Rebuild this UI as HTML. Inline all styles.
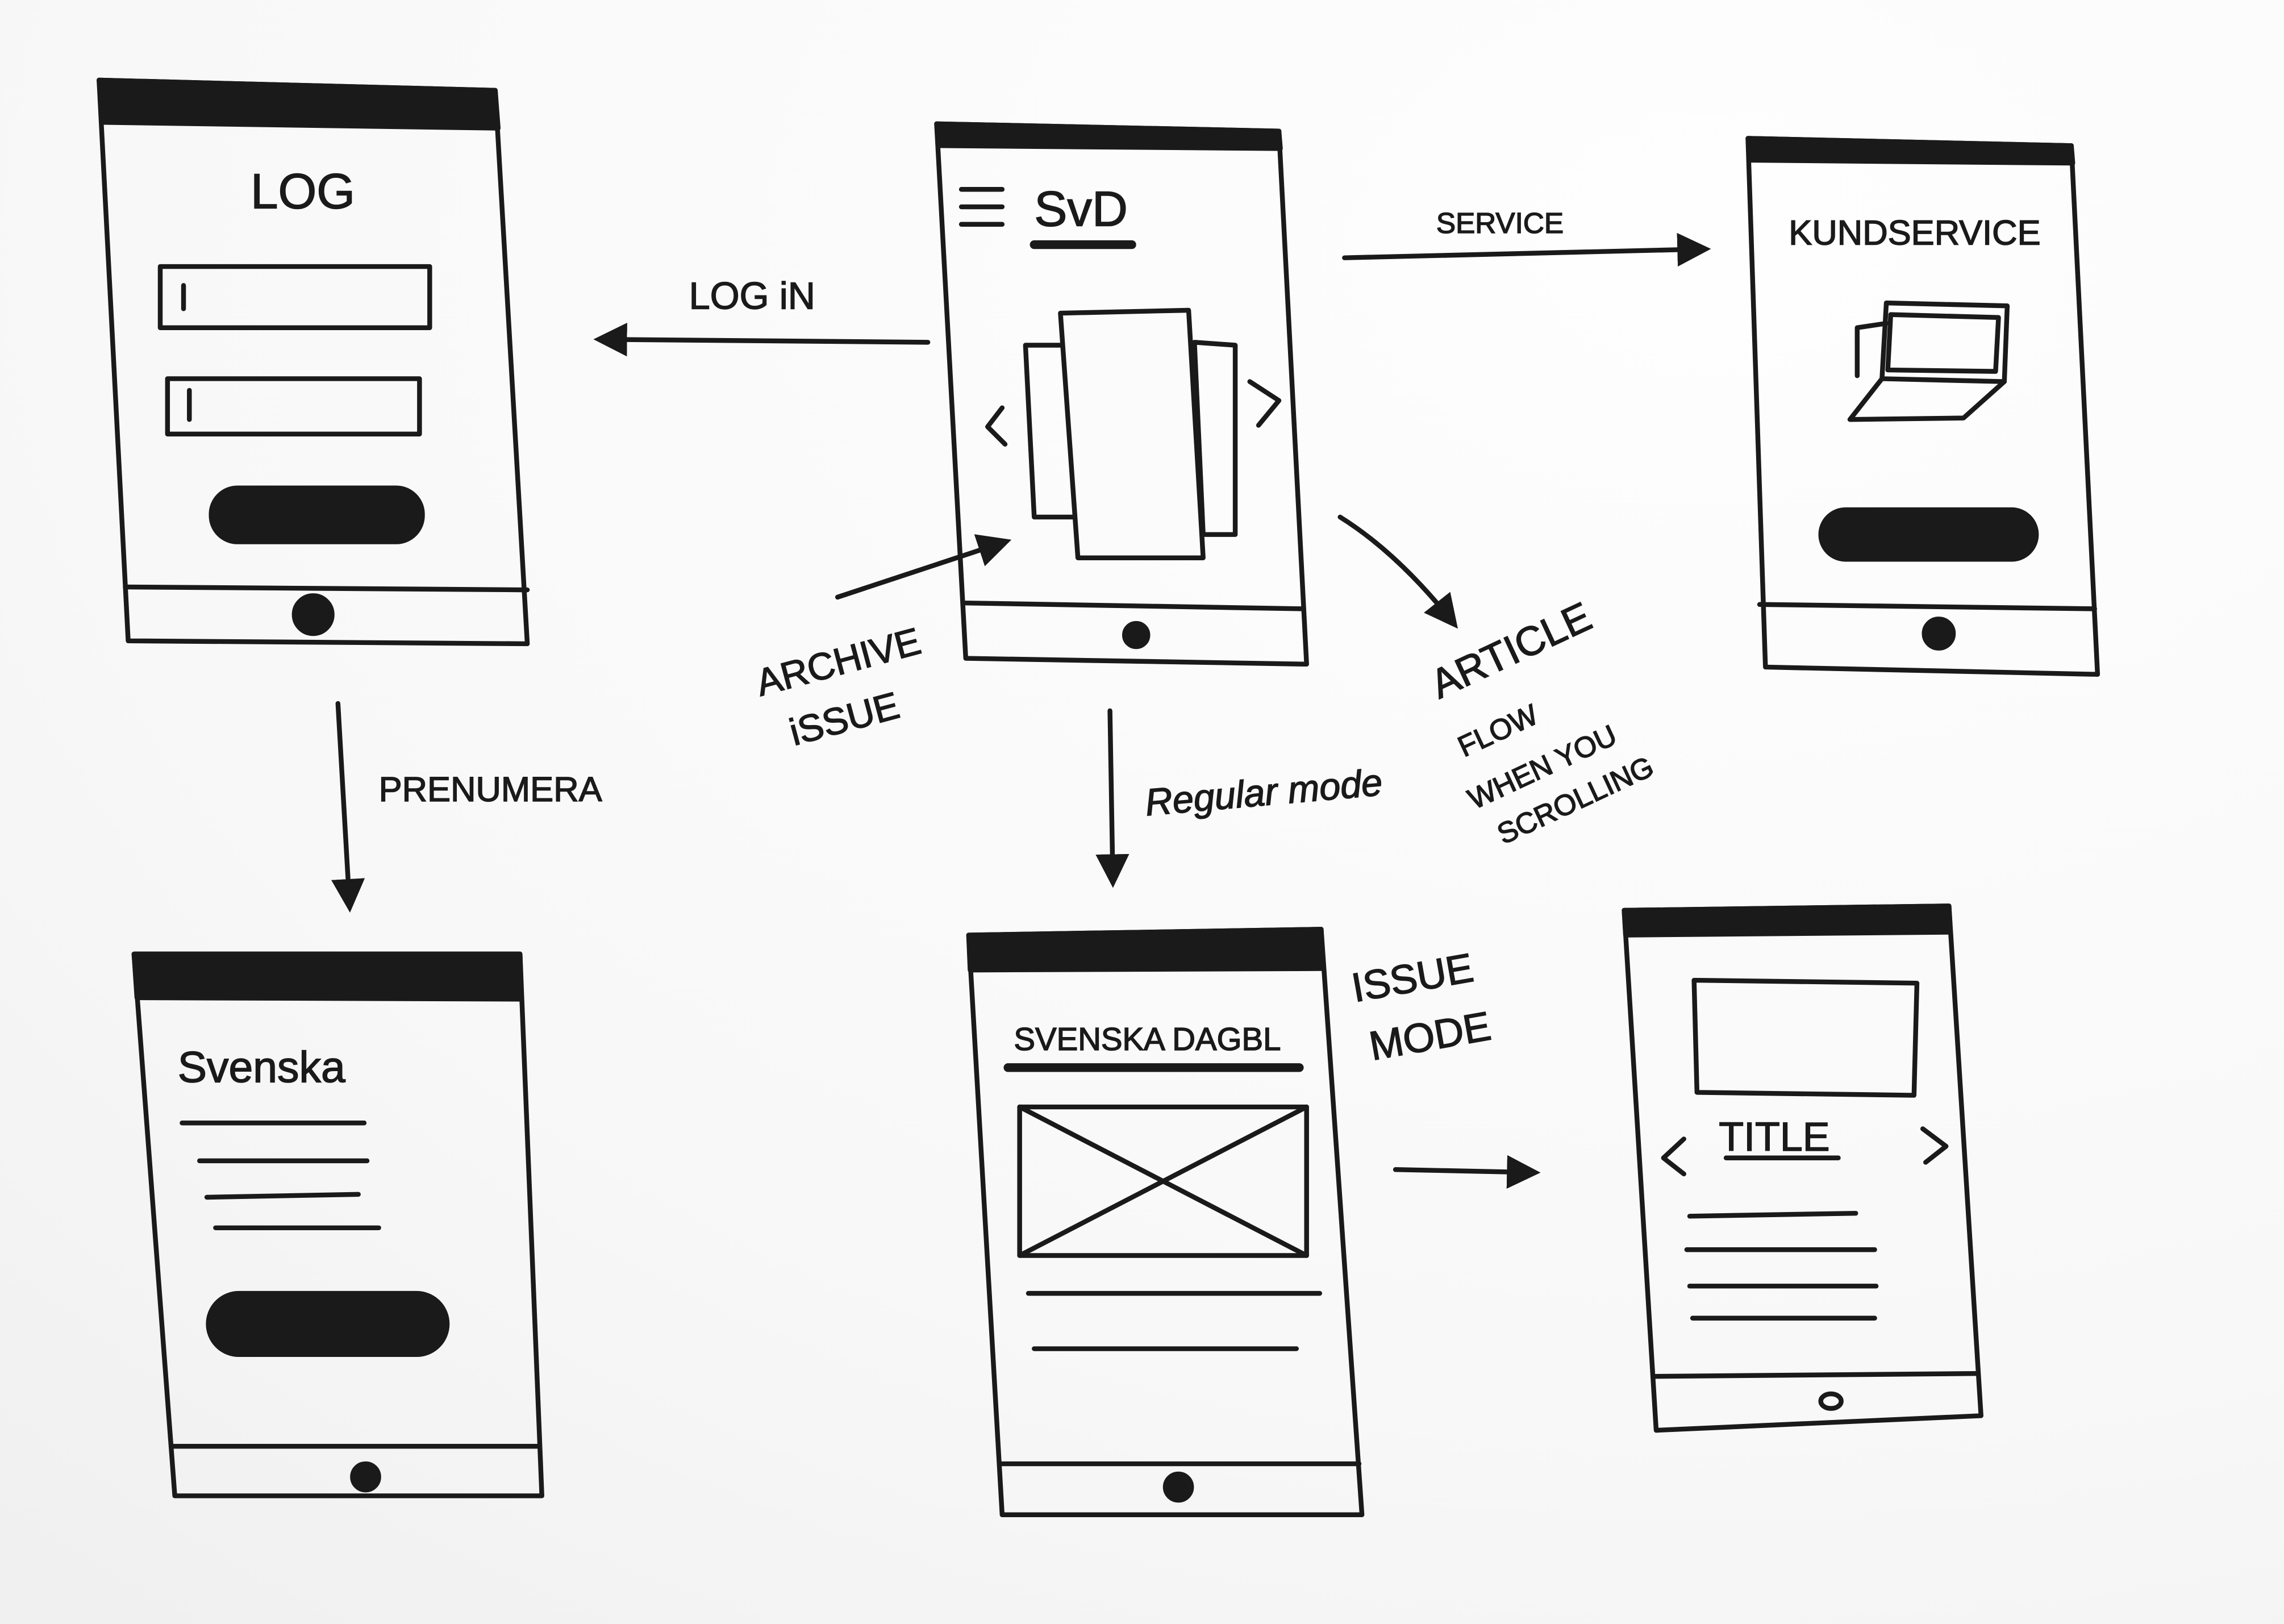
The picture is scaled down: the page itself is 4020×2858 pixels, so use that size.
<!DOCTYPE html>
<html><head><meta charset="utf-8"><style>
html,body{margin:0;padding:0;width:4020px;height:2858px;overflow:hidden;background:#f9f9f9}
svg{display:block}
text{font-family:"Liberation Sans",sans-serif;fill:#1a1a1a}
</style></head><body>
<svg width="4020" height="2858" viewBox="0 0 1568 1115" preserveAspectRatio="none" xmlns="http://www.w3.org/2000/svg">
<defs>
<radialGradient id="bg" cx="0.75" cy="0.15" r="1.2">
<stop offset="0" stop-color="#fefefe"/><stop offset="0.6" stop-color="#f8f8f8"/><stop offset="1" stop-color="#eeeeee"/>
</radialGradient>
<marker id="ah" viewBox="0 0 10 10" refX="8" refY="5" markerWidth="7" markerHeight="7" orient="auto-start-reverse">
<path d="M0,0 L10,5 L0,10 z" fill="#1a1a1a"/></marker>
</defs>
<rect width="1568" height="1115" fill="url(#bg)"/>
<g fill="none" stroke="#1a1a1a" stroke-width="3.3" stroke-linecap="round" stroke-linejoin="round">
<path d="M68,55 L340,62 L362,442 L88,440 Z"/>
<path d="M68,55 L340,62 L342,88 L70,84 Z" fill="#1a1a1a"/>
<line x1="86" y1="403" x2="362" y2="405"/>
<rect x="110" y="183" width="185" height="42"/>
<rect x="115" y="260" width="173" height="38"/>
<line x1="126" y1="196" x2="126" y2="212"/><line x1="130" y1="268" x2="130" y2="288"/>
<rect x="145" y="335" width="145" height="37" rx="18" fill="#1a1a1a"/>
<circle cx="215" cy="422" r="13" fill="#1a1a1a"/>
<path d="M643,85 L878,90 L897,456 L663,452 Z"/>
<path d="M643,85 L878,90 L879,102 L644,100 Z" fill="#1a1a1a"/>
<line x1="663" y1="414" x2="895" y2="418"/>
<line x1="660" y1="130" x2="688" y2="130"/><line x1="660" y1="142" x2="688" y2="142"/><line x1="660" y1="154" x2="688" y2="154"/>
<line x1="710" y1="168" x2="777" y2="168" stroke-width="6"/>
<path d="M704,237 L738,237 L738,355 L710,355 Z"/>
<path d="M820,235 L848,237 L848,367 L826,367 Z"/>
<path d="M728,215 L816,213 L826,383 L740,383 Z" fill="#fbfbfb"/>
<path d="M688,280 L678,293 L690,305"/>
<path d="M858,262 L878,275 L864,292"/>
<circle cx="780" cy="436" r="8" fill="#1a1a1a"/>
<path d="M1200,95 L1422,100 L1440,463 L1212,458 Z"/>
<path d="M1200,95 L1422,100 L1423,112 L1201,110 Z" fill="#1a1a1a"/>
<line x1="1208" y1="415" x2="1438" y2="418"/>
<path d="M1295,208 L1378,210 L1376,262 L1292,260 Z"/>
<path d="M1298,216 L1372,218 L1370,255 L1296,254 Z"/>
<path d="M1292,260 L1270,288 L1348,287 L1376,262"/>
<path d="M1275,225 L1275,258 M1275,225 L1295,222"/>
<rect x="1250" y="350" width="148" height="34" rx="17" fill="#1a1a1a"/>
<circle cx="1331" cy="435" r="10" fill="#1a1a1a"/>
<path d="M92,655 L357,655 L372,1027 L120,1027 Z"/>
<path d="M92,655 L357,655 L358,686 L94,685 Z" fill="#1a1a1a"/>
<line x1="118" y1="993" x2="370" y2="993"/>
<line x1="125" y1="771" x2="250" y2="771"/><line x1="137" y1="797" x2="252" y2="797"/>
<line x1="142" y1="822" x2="246" y2="820"/><line x1="148" y1="843" x2="260" y2="843"/>
<rect x="143" y="888" width="164" height="42" rx="21" fill="#1a1a1a"/>
<circle cx="251" cy="1014" r="9" fill="#1a1a1a"/>
<path d="M665,642 L907,638 L935,1040 L688,1040 Z"/>
<path d="M665,642 L907,638 L908,665 L666,666 Z" fill="#1a1a1a"/>
<line x1="686" y1="1005" x2="933" y2="1005"/>
<line x1="692" y1="733" x2="892" y2="733" stroke-width="6"/>
<rect x="700" y="760" width="197" height="102"/>
<line x1="700" y1="760" x2="897" y2="862"/><line x1="897" y1="760" x2="700" y2="862"/>
<line x1="706" y1="888" x2="906" y2="888"/><line x1="710" y1="926" x2="890" y2="926"/>
<circle cx="809" cy="1021" r="9" fill="#1a1a1a"/>
<path d="M1115,625 L1338,622 L1360,972 L1137,982 Z"/>
<path d="M1115,625 L1338,622 L1339,640 L1116,642 Z" fill="#1a1a1a"/>
<line x1="1135" y1="945" x2="1358" y2="943"/>
<path d="M1163,673 L1316,675 L1314,752 L1165,750 Z"/>
<path d="M1156,782 L1142,795 L1156,806"/>
<path d="M1320,775 L1336,787 L1322,798"/>
<line x1="1185" y1="795" x2="1262" y2="795"/>
<line x1="1160" y1="835" x2="1274" y2="833"/><line x1="1158" y1="858" x2="1287" y2="858"/>
<line x1="1160" y1="883" x2="1288" y2="883"/><line x1="1162" y1="905" x2="1287" y2="905"/>
<ellipse cx="1257" cy="962" rx="7" ry="5"/>
<path d="M637,235 L412,233" marker-end="url(#ah)"/>
<path d="M923,177 L1170,171" marker-end="url(#ah)"/>
<path d="M575,410 L690,372" marker-end="url(#ah)"/>
<path d="M920,355 Q960,380 998,428" marker-end="url(#ah)"/>
<path d="M232,483 L240,622" marker-end="url(#ah)"/>
<path d="M762,488 L764,605" marker-end="url(#ah)"/>
<path d="M958,803 L1053,805" marker-end="url(#ah)"/>
</g>
<g font-size="26" stroke="#1a1a1a" stroke-width="0.6">
<text x="172" y="143" font-size="34">LOG</text>
<text x="473" y="212" font-size="26">LOG iN</text>
<text x="710" y="155" font-size="34" font-family="Liberation Serif">SvD</text>
<text x="986" y="160" font-size="20">SERVICE</text>
<text x="1228" y="168" font-size="24">KUNDSERVICE</text>
<text x="522" y="478" transform="rotate(-15 522 478)" font-size="26">ARCHIVE</text>
<text x="545" y="512" transform="rotate(-15 545 512)" font-size="26">iSSUE</text>
<text x="988" y="480" transform="rotate(-25 988 480)" font-size="28">ARTICLE</text>
<text x="1005" y="520" transform="rotate(-25 1005 520)" font-size="20">FLOW</text>
<text x="1012" y="556" transform="rotate(-25 1012 556)" font-size="20">WHEN YOU</text>
<text x="1032" y="580" transform="rotate(-25 1032 580)" font-size="20">SCROLLING</text>
<text x="260" y="550" font-size="24">PRENUMERA</text>
<text x="787" y="560" transform="rotate(-5 787 560)" font-size="26" font-family="Liberation Serif" font-style="italic">Regular mode</text>
<text x="122" y="743" font-size="30" font-family="Liberation Serif">Svenska</text>
<text x="696" y="721" font-size="22">SVENSKA DAGBL</text>
<text x="930" y="688" transform="rotate(-10 930 688)" font-size="28">ISSUE</text>
<text x="942" y="728" transform="rotate(-10 942 728)" font-size="28">MODE</text>
<text x="1180" y="790" font-size="28">TITLE</text>
</g>
</svg>
</body></html>
